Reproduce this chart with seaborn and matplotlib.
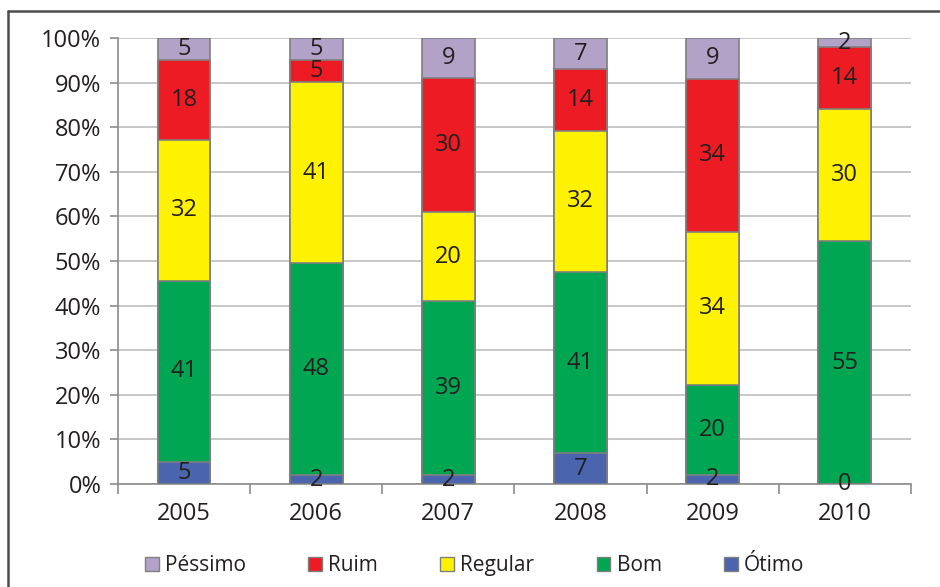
import matplotlib
matplotlib.use("Agg")
import matplotlib.pyplot as plt
from matplotlib.lines import Line2D
from matplotlib.patches import Patch
import numpy as np
import pandas as pd
import seaborn as sns

years = ["2005", "2006", "2007", "2008", "2009", "2010"]
otimo = [5, 2, 2, 7, 2, 0]
bom = [41, 48, 39, 41, 20, 55]
regular = [32, 41, 20, 32, 34, 30]
ruim = [18, 5, 30, 14, 34, 14]
pessimo = [5, 5, 9, 7, 9, 2]

# stacking order from bottom to top
series_names = ["Ótimo", "Bom", "Regular", "Ruim", "Péssimo"]
series_values = [otimo, bom, regular, ruim, pessimo]
colors = {
    "Péssimo": "#B3A2C8",
    "Ruim": "#ED1C24",
    "Regular": "#FFF200",
    "Bom": "#00A651",
    "Ótimo": "#4A64AE",
}
legend_order = ["Péssimo", "Ruim", "Regular", "Bom", "Ótimo"]

sns.set_theme(style="white")
plt.rcParams["font.family"] = ["Open Sans", "DejaVu Sans"]
text_color = "#231F20"
fs = 17

vals = np.array(series_values, dtype=float)
totals = vals.sum(axis=0)
shares = vals / totals * 100
cum_top = np.cumsum(shares, axis=0)
cum_bot = cum_top - shares

fig = plt.figure(figsize=(9.4, 5.87), dpi=100)
ax = fig.add_axes([0.1255, 0.1755, 0.969 - 0.1255, 0.935 - 0.1755])

# draw cumulative bars from the top series down so each one covers the next
for i in range(len(series_names) - 1, -1, -1):
    df = pd.DataFrame({"year": years, "top": cum_top[i]})
    sns.barplot(data=df, x="year", y="top", order=years, color=colors[series_names[i]],
                width=0.4, edgecolor="#7F7F7F", linewidth=1.2, saturation=1,
                ax=ax, zorder=3)

# segment labels
for i, name in enumerate(series_names):
    for j in range(len(years)):
        yc = (cum_top[i, j] + cum_bot[i, j]) / 2
        ax.text(j, yc, f"{series_values[i][j]:d}", ha="center", va="center",
                fontsize=fs, color=text_color, zorder=5)

ax.set_xlim(-0.5, len(years) - 0.5)
ax.set_ylim(0, 100)
ax.set_yticks(np.arange(0, 101, 10))
ax.set_yticklabels([f"{v}%" for v in range(0, 101, 10)])
ax.yaxis.grid(True, color="#BDBDBD", linewidth=1.2, zorder=0)
ax.set_axisbelow(True)
ax.set_xlabel("")
ax.set_ylabel("")

for side in ["top", "right"]:
    ax.spines[side].set_visible(False)
for side in ["left", "bottom"]:
    ax.spines[side].set_color("#8C8C8C")
    ax.spines[side].set_linewidth(1.2)

ax.tick_params(axis="y", which="major", left=True, length=6, width=1.2, color="#8C8C8C",
               pad=6, labelsize=fs, labelcolor=text_color)
ax.tick_params(axis="x", which="major", bottom=False, length=0, pad=13,
               labelsize=fs, labelcolor=text_color)
ax.set_xticks(np.arange(-0.5, len(years)), minor=True)
ax.tick_params(axis="x", which="minor", bottom=True, length=7, width=1.2, color="#8C8C8C")

handles = [Patch(facecolor=colors[n], edgecolor="#7F7F7F", linewidth=1.0, label=n)
           for n in legend_order]
fig.legend(handles=handles, loc="center", bbox_to_anchor=(0.505, 0.036), ncol=5,
           frameon=False, fontsize=15, handlelength=0.65, handleheight=0.65,
           handletextpad=0.3, columnspacing=3.0, labelcolor=text_color)

# outer frame lines
fig.add_artist(Line2D([8 / 940, 8 / 940], [0, 1 - 11 / 587], transform=fig.transFigure,
                      color="#4D4D4D", linewidth=1.8))
fig.add_artist(Line2D([8 / 940, 1], [1 - 11 / 587, 1 - 11 / 587], transform=fig.transFigure,
                      color="#4D4D4D", linewidth=1.8))

fig.savefig("out.png", dpi=100)
